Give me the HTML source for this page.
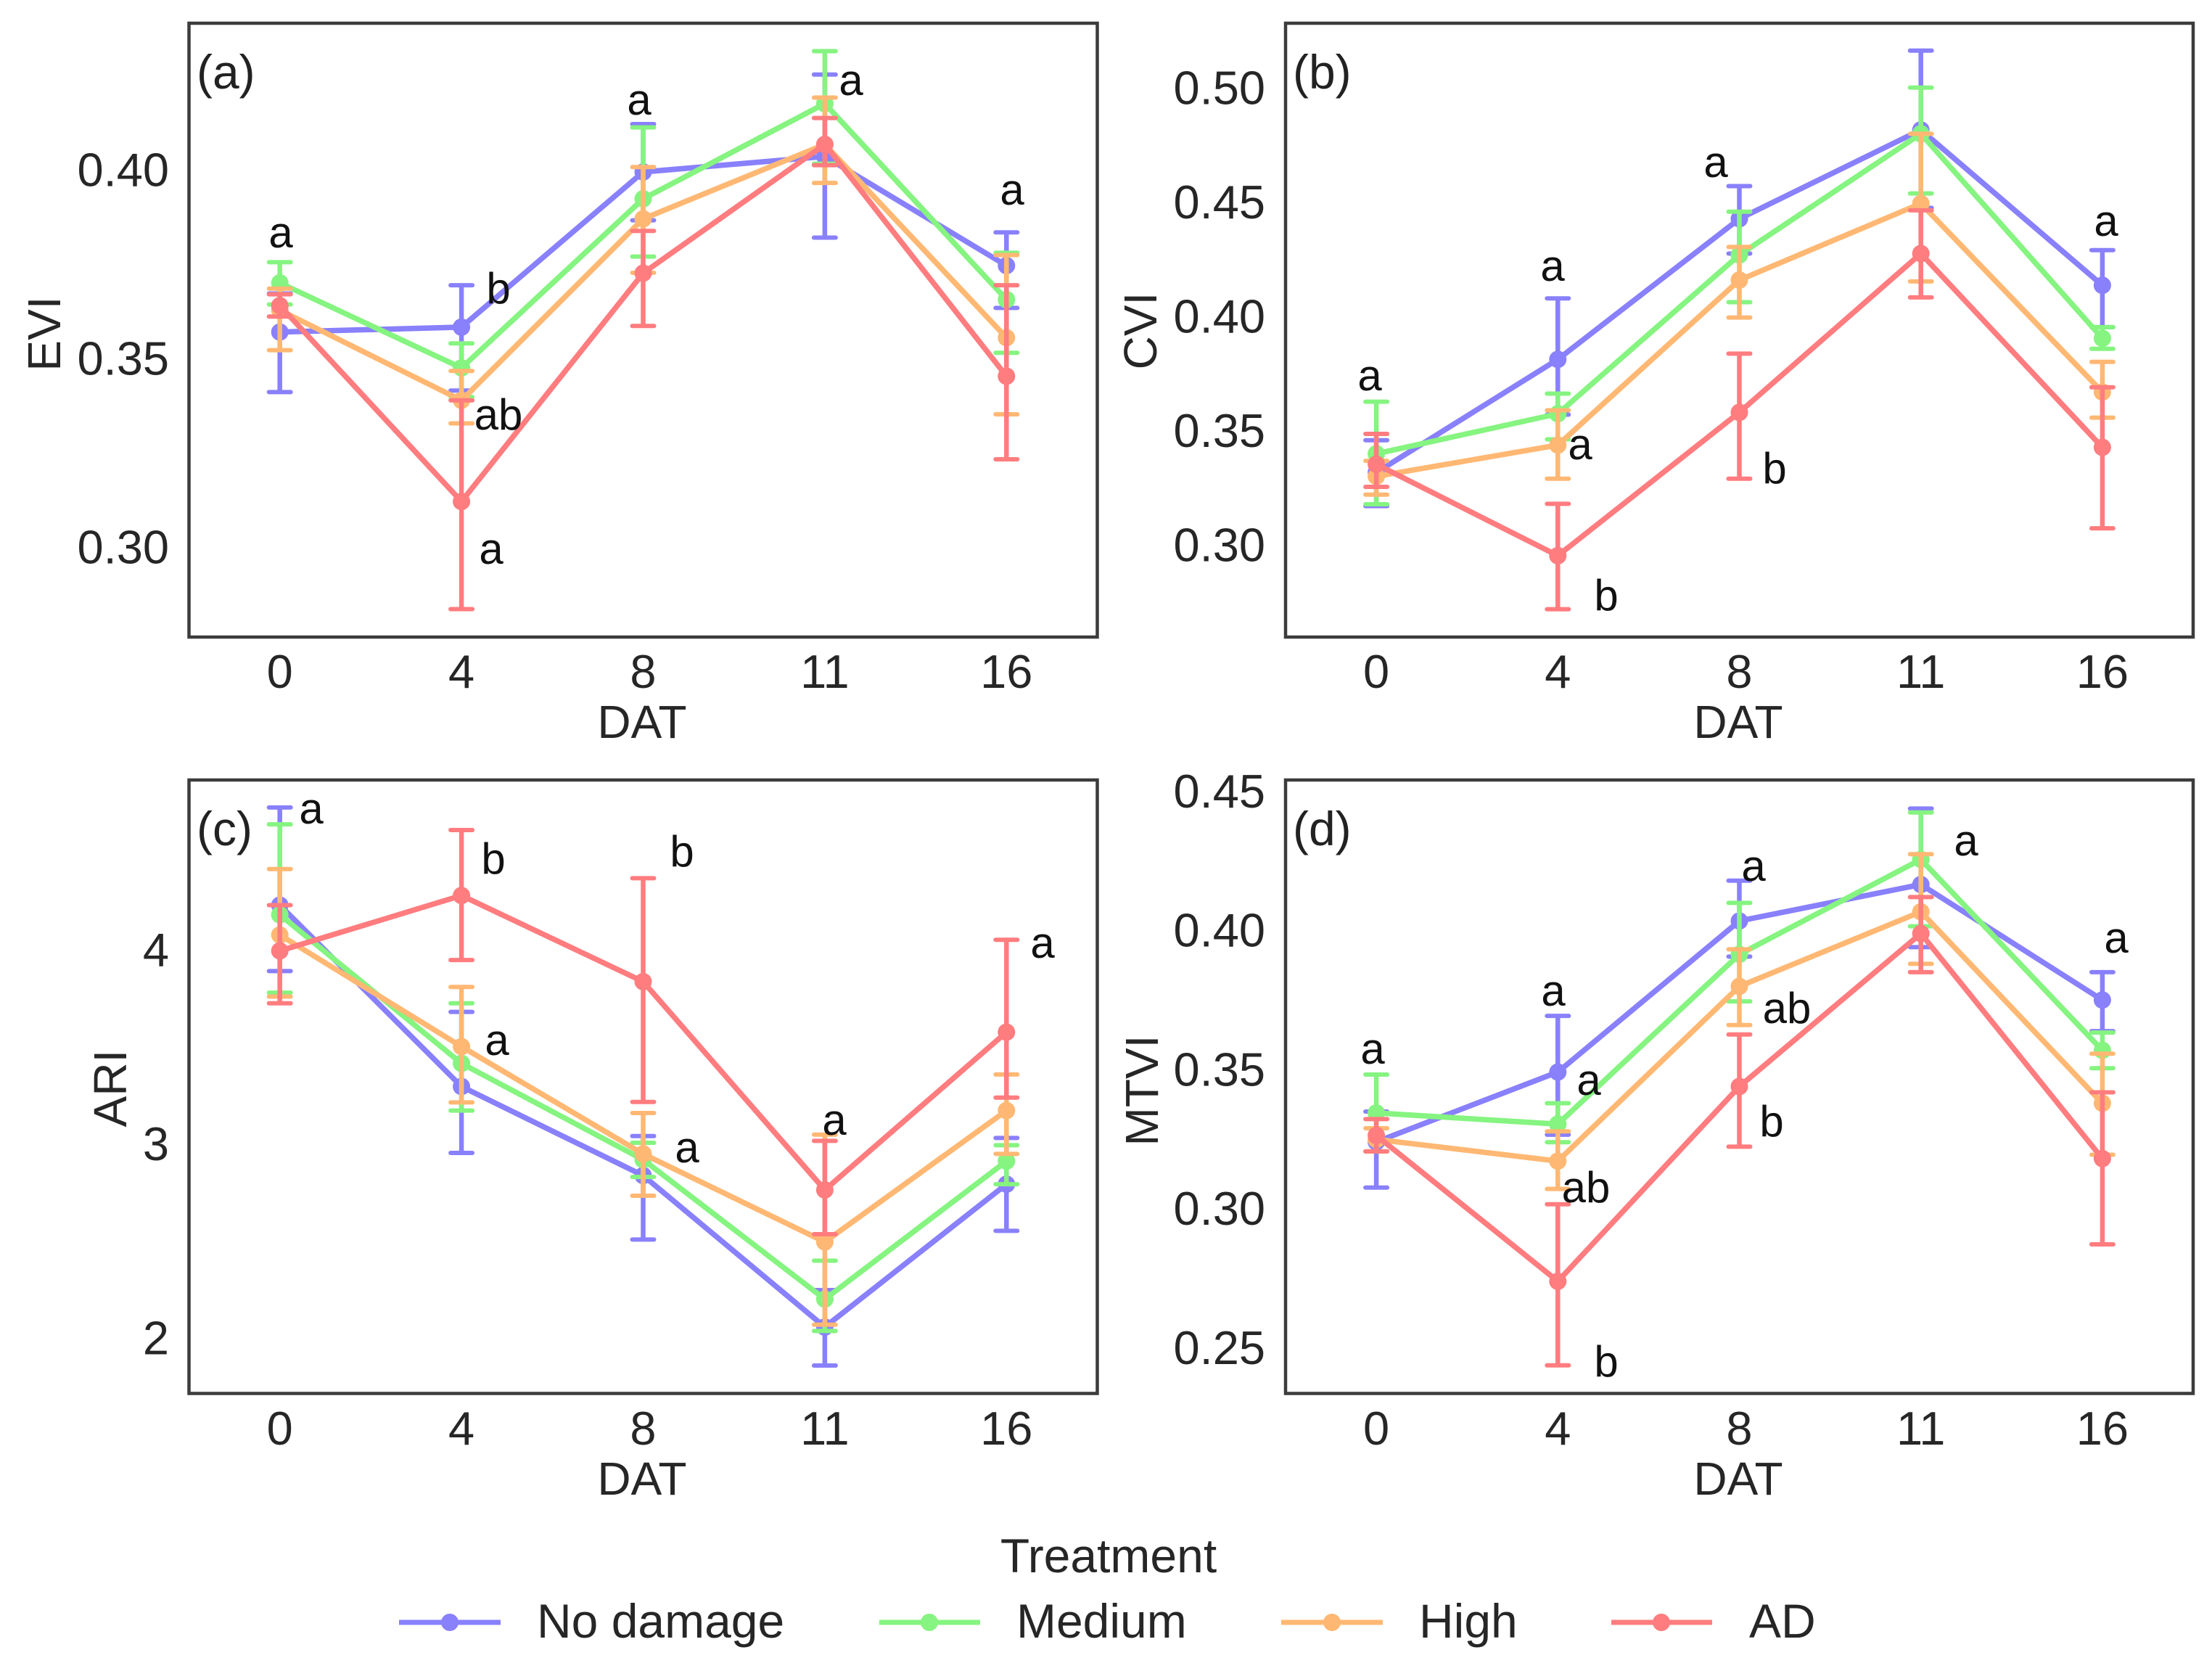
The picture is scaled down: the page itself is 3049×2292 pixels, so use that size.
<!DOCTYPE html>
<html lang="en">
<head>
<meta charset="utf-8">
<title>Vegetation indices by treatment and DAT</title>
<style>
html,body{margin:0;padding:0;background:#fff;}
svg{display:block;}
text{font-family:"Liberation Sans",Arial,sans-serif;fill:#262626;}
.tick{font-size:65px;}
.axis{font-size:64px;}
.letter{font-size:60px;fill:#111;text-anchor:middle;}
.panel{font-size:66px;fill:#222;}
.legend{font-size:66px;}
.frame{fill:#fff;stroke:#3c3c3c;stroke-width:4.5;}
</style>
</head>
<body>
<svg id="figure" xmlns="http://www.w3.org/2000/svg" width="3049" height="2292" viewBox="0 0 3049 2292">
  <rect width="3049" height="2292" fill="#fff"/>

  <rect class="frame" x="260.5" y="32" width="1252" height="846"/>
  <rect class="frame" x="1772" y="32" width="1251" height="846"/>
  <rect class="frame" x="260.5" y="1075" width="1252" height="845.5"/>
  <rect class="frame" x="1772" y="1075" width="1251" height="845.5"/>

  <g id="marks"></g>

  <g>
    <text class="axis" x="885" y="1017" text-anchor="middle">DAT</text>
    <text class="axis" x="2396" y="1017" text-anchor="middle">DAT</text>
    <text class="axis" x="885" y="2060" text-anchor="middle">DAT</text>
    <text class="axis" x="2396" y="2060" text-anchor="middle">DAT</text>
    <text class="axis" text-anchor="middle" transform="translate(83,460) rotate(-90)">EVI</text>
    <text class="axis" text-anchor="middle" transform="translate(1594,456) rotate(-90)">CVI</text>
    <text class="axis" text-anchor="middle" transform="translate(174,1500) rotate(-90)">ARI</text>
    <text class="axis" text-anchor="middle" transform="translate(1596,1503) rotate(-90)">MTVI</text>
  </g>

  <g>
    <text class="panel" x="271" y="122">(a)</text>
    <text class="panel" x="1782" y="122">(b)</text>
    <text class="panel" x="271" y="1165">(c)</text>
    <text class="panel" x="1782" y="1165">(d)</text>
  </g>

  <g>
    <text class="letter" x="387" y="341">a</text>
    <text class="letter" x="687" y="418">b</text>
    <text class="letter" x="687" y="592">ab</text>
    <text class="letter" x="677" y="777">a</text>
    <text class="letter" x="881" y="158">a</text>
    <text class="letter" x="1173" y="131">a</text>
    <text class="letter" x="1395" y="282">a</text>
  </g>
  <g>
    <text class="letter" x="1888" y="538">a</text>
    <text class="letter" x="2140" y="387">a</text>
    <text class="letter" x="2178" y="633">a</text>
    <text class="letter" x="2214" y="841">b</text>
    <text class="letter" x="2365" y="244">a</text>
    <text class="letter" x="2446" y="666">b</text>
    <text class="letter" x="2903" y="325">a</text>
  </g>
  <g>
    <text class="letter" x="429" y="1135">a</text>
    <text class="letter" x="680" y="1204">b</text>
    <text class="letter" x="940" y="1194">b</text>
    <text class="letter" x="685" y="1454">a</text>
    <text class="letter" x="947" y="1602">a</text>
    <text class="letter" x="1150" y="1564">a</text>
    <text class="letter" x="1437" y="1320">a</text>
  </g>
  <g>
    <text class="letter" x="1892" y="1466">a</text>
    <text class="letter" x="2141" y="1386">a</text>
    <text class="letter" x="2190" y="1509">a</text>
    <text class="letter" x="2186" y="1657">ab</text>
    <text class="letter" x="2214" y="1897">b</text>
    <text class="letter" x="2417" y="1214">a</text>
    <text class="letter" x="2463" y="1410">ab</text>
    <text class="letter" x="2442" y="1566">b</text>
    <text class="letter" x="2710" y="1179">a</text>
    <text class="letter" x="2917" y="1313">a</text>
  </g>

  <g>
    <text class="legend" x="1528" y="2167" text-anchor="middle">Treatment</text>
    <g>
      <line x1="550" x2="690" y1="2236" y2="2236" stroke="#8980fb" stroke-width="7"/>
      <circle cx="620" cy="2236" r="12" fill="#8980fb"/>
      <text class="legend" x="740" y="2257">No damage</text>
    </g>
    <g>
      <line x1="1212" x2="1351" y1="2236" y2="2236" stroke="#85f480" stroke-width="7"/>
      <circle cx="1281" cy="2236" r="12" fill="#85f480"/>
      <text class="legend" x="1401" y="2257">Medium</text>
    </g>
    <g>
      <line x1="1766" x2="1906" y1="2236" y2="2236" stroke="#ffb873" stroke-width="7"/>
      <circle cx="1836" cy="2236" r="12" fill="#ffb873"/>
      <text class="legend" x="1956" y="2257">High</text>
    </g>
    <g>
      <line x1="2221" x2="2360" y1="2236" y2="2236" stroke="#ff7c7f" stroke-width="7"/>
      <circle cx="2290" cy="2236" r="12" fill="#ff7c7f"/>
      <text class="legend" x="2411" y="2257">AD</text>
    </g>
  </g>
</svg>

<script>
// Shared categories and tick labels
const categories = ['0', '4', '8', '11', '16'];
const seriesNames = ['no-damage', 'medium', 'high', 'ad'];
const eviTicks = ['0.30', '0.35', '0.40'];
const cviTicks = ['0.30', '0.35', '0.40', '0.45', '0.50'];
const ariTicks = ['2', '3', '4'];
const mtviTicks = ['0.25', '0.30', '0.35', '0.40', '0.45'];

// EVI
const eviNoDamage = [0.3573, 0.3586, 0.3997, 0.4038, 0.3749];
const eviNoDamageHi = [0.3675, 0.3697, 0.4124, 0.4255, 0.3837];
const eviNoDamageLo = [0.3414, 0.3418, 0.3869, 0.3823, 0.3637];
const eviMedium = [0.3703, 0.3478, 0.3926, 0.4178, 0.3659];
const eviMediumHi = [0.3758, 0.3543, 0.4115, 0.4317, 0.3783];
const eviMediumLo = [0.3646, 0.3401, 0.3773, 0.4019, 0.3518];
const eviHigh = [0.3631, 0.3392, 0.3873, 0.4070, 0.3558];
const eviHighHi = [0.3688, 0.3470, 0.4010, 0.4194, 0.3777];
const eviHighLo = [0.3525, 0.3331, 0.3730, 0.3968, 0.3355];
const eviAd = [0.3643, 0.3124, 0.3729, 0.4070, 0.3456];
const eviAdHi = [0.3673, 0.3392, 0.3841, 0.4140, 0.3697];
const eviAdLo = [0.3614, 0.2839, 0.3589, 0.4015, 0.3236];

// CVI
const cviNoDamage = [0.3322, 0.3817, 0.4432, 0.4821, 0.4141];
const cviNoDamageHi = [0.3463, 0.4084, 0.4575, 0.5168, 0.4295];
const cviNoDamageLo = [0.3175, 0.3575, 0.4280, 0.4480, 0.3958];
const cviMedium = [0.3404, 0.3579, 0.4274, 0.4804, 0.3909];
const cviMediumHi = [0.3632, 0.3667, 0.4463, 0.5006, 0.3958];
const cviMediumLo = [0.3183, 0.3467, 0.4067, 0.4543, 0.3863];
const cviHigh = [0.3305, 0.3442, 0.4164, 0.4499, 0.3674];
const cviHighHi = [0.3373, 0.3594, 0.4309, 0.4804, 0.3806];
const cviHighLo = [0.3225, 0.3295, 0.4000, 0.4158, 0.3562];
const cviAd = [0.3358, 0.2958, 0.3585, 0.4280, 0.3432];
const cviAdHi = [0.3491, 0.3185, 0.3842, 0.4469, 0.3695];
const cviAdLo = [0.3259, 0.2724, 0.3295, 0.4088, 0.3078];

// ARI
const ariNoDamage = [4.2354, 3.3011, 2.8426, 2.0620, 2.7980];
const ariNoDamageHi = [4.7385, 3.6853, 3.0458, 2.2528, 3.0359];
const ariNoDamageLo = [3.8959, 2.9591, 2.5130, 1.8637, 2.5576];
const ariMedium = [4.1859, 3.4201, 2.9244, 2.2057, 2.9170];
const ariMediumHi = [4.6518, 3.7299, 3.0112, 2.4040, 2.9988];
const ariMediumLo = [3.7844, 3.1772, 2.8352, 2.0421, 2.7980];
const ariHigh = [4.0818, 3.5068, 2.9541, 2.5006, 3.1772];
const ariHighHi = [4.4213, 3.8141, 3.1648, 3.0533, 3.3631];
const ariHighLo = [3.7646, 3.2193, 2.7385, 2.0743, 2.9541];
const ariAd = [4.0000, 4.2850, 3.8414, 2.7683, 3.5812];
const ariAdHi = [4.2354, 4.6221, 4.3742, 3.0211, 4.0570];
const ariAdLo = [3.7299, 3.9529, 3.2218, 2.5403, 3.2441];

// MTVI
const mtviNoDamage = [0.3243, 0.3494, 0.4037, 0.4168, 0.3753];
const mtviNoDamageHi = [0.3352, 0.3696, 0.4182, 0.4441, 0.3853];
const mtviNoDamageLo = [0.3079, 0.3269, 0.3909, 0.3943, 0.3641];
const mtviMedium = [0.3347, 0.3307, 0.3917, 0.4258, 0.3572];
const mtviMediumHi = [0.3485, 0.3382, 0.4102, 0.4427, 0.3636];
const mtviMediumLo = [0.3209, 0.3242, 0.3748, 0.4018, 0.3508];
const mtviHigh = [0.3252, 0.3174, 0.3802, 0.4070, 0.3382];
const mtviHighHi = [0.3292, 0.3281, 0.3935, 0.4277, 0.3560];
const mtviHighLo = [0.3209, 0.3074, 0.3663, 0.3883, 0.3197];
const mtviAd = [0.3266, 0.2742, 0.3442, 0.3992, 0.3183];
const mtviAdHi = [0.3325, 0.3019, 0.3629, 0.4123, 0.3421];
const mtviAdLo = [0.3209, 0.2440, 0.3226, 0.3853, 0.2875];

const seriesColors = ['#8980fb', '#85f480', '#ffb873', '#ff7c7f'];

const panels = [
  { id: 'evi', left: 260.5, width: 1252, top: 31, height: 847, yMin: 0.2765, yMax: 0.4393, ticks: eviTicks,
    xTickBase: 948, labelEnd: 233,
    mid: [eviNoDamage, eviMedium, eviHigh, eviAd],
    hi: [eviNoDamageHi, eviMediumHi, eviHighHi, eviAdHi],
    lo: [eviNoDamageLo, eviMediumLo, eviHighLo, eviAdLo] },
  { id: 'cvi', left: 1772, width: 1251, top: 31, height: 847, yMin: 0.2602, yMax: 0.5291, ticks: cviTicks,
    xTickBase: 948, labelEnd: 1744,
    mid: [cviNoDamage, cviMedium, cviHigh, cviAd],
    hi: [cviNoDamageHi, cviMediumHi, cviHighHi, cviAdHi],
    lo: [cviNoDamageLo, cviMediumLo, cviHighLo, cviAdLo] },
  { id: 'ari', left: 260.5, width: 1252, top: 1074.5, height: 846, yMin: 1.720, yMax: 4.882, ticks: ariTicks,
    xTickBase: 1991, labelEnd: 233,
    mid: [ariNoDamage, ariMedium, ariHigh, ariAd],
    hi: [ariNoDamageHi, ariMediumHi, ariHighHi, ariAdHi],
    lo: [ariNoDamageLo, ariMediumLo, ariHighLo, ariAdLo] },
  { id: 'mtvi', left: 1772, width: 1251, top: 1074.5, height: 846, yMin: 0.2339, yMax: 0.4545, ticks: mtviTicks,
    xTickBase: 1991, labelEnd: 1744,
    mid: [mtviNoDamage, mtviMedium, mtviHigh, mtviAd],
    hi: [mtviNoDamageHi, mtviMediumHi, mtviHighHi, mtviAdHi],
    lo: [mtviNoDamageLo, mtviMediumLo, mtviHighLo, mtviAdLo] }
];

const NS = 'http://www.w3.org/2000/svg';
const root = document.getElementById('marks');

function make(tag, parent) {
  const el = document.createElementNS(NS, tag);
  parent.appendChild(el);
  return el;
}

panels.forEach(function (p) {
  const band = p.width / categories.length;
  const xScale = function (i) { return p.left + band * (i + 0.5); };
  const yScale = function (v) { return p.top + (p.yMax - v) / (p.yMax - p.yMin) * p.height; };

  const g = make('g', root);
  
  

  categories.forEach(function (c, i) {
    const t = make('text', g);
    
    
    t.setAttribute('class', 'tick');
    t.setAttribute('x', xScale(i));
    t.setAttribute('y', p.xTickBase);
    t.setAttribute('text-anchor', 'middle');
    t.textContent = c;
  });

  p.ticks.forEach(function (label) {
    const t = make('text', g);
    
    
    t.setAttribute('class', 'tick');
    t.setAttribute('x', p.labelEnd);
    t.setAttribute('y', yScale(parseFloat(label)) + 21);
    t.setAttribute('text-anchor', 'end');
    t.textContent = label;
  });

  p.mid.forEach(function (values, s) {
    const color = seriesColors[s];
    const sg = make('g', g);
    
    

    values.forEach(function (v, i) {
      const x = xScale(i);
      const yHi = yScale(p.hi[s][i]);
      const yLo = yScale(p.lo[s][i]);

      const bar = make('line', sg);
      
      
      bar.setAttribute('x1', x);
      bar.setAttribute('x2', x);
      bar.setAttribute('y1', yHi);
      bar.setAttribute('y2', yLo);
      bar.setAttribute('stroke', color);
      bar.setAttribute('stroke-width', 6.5);

      const capTop = make('line', sg);
      
      
      capTop.setAttribute('x1', x - 15);
      capTop.setAttribute('x2', x + 15);
      capTop.setAttribute('y1', yHi);
      capTop.setAttribute('y2', yHi);
      capTop.setAttribute('stroke', color);
      capTop.setAttribute('stroke-width', 6);
      capTop.setAttribute('stroke-linecap', 'round');

      const capBottom = make('line', sg);
      
      
      capBottom.setAttribute('x1', x - 15);
      capBottom.setAttribute('x2', x + 15);
      capBottom.setAttribute('y1', yLo);
      capBottom.setAttribute('y2', yLo);
      capBottom.setAttribute('stroke', color);
      capBottom.setAttribute('stroke-width', 6);
      capBottom.setAttribute('stroke-linecap', 'round');
    });

    const line = make('polyline', sg);
    
    
    line.setAttribute('points', values.map(function (v, i) { return xScale(i) + ',' + yScale(v); }).join(' '));
    line.setAttribute('fill', 'none');
    line.setAttribute('stroke', color);
    line.setAttribute('stroke-width', 7.5);
    line.setAttribute('stroke-linejoin', 'round');

    values.forEach(function (v, i) {
      const dot = make('circle', sg);
      
      
      dot.setAttribute('cx', xScale(i));
      dot.setAttribute('cy', yScale(v));
      dot.setAttribute('r', 12);
      dot.setAttribute('fill', color);
    });
  });
});
</script>
</body>
</html>
